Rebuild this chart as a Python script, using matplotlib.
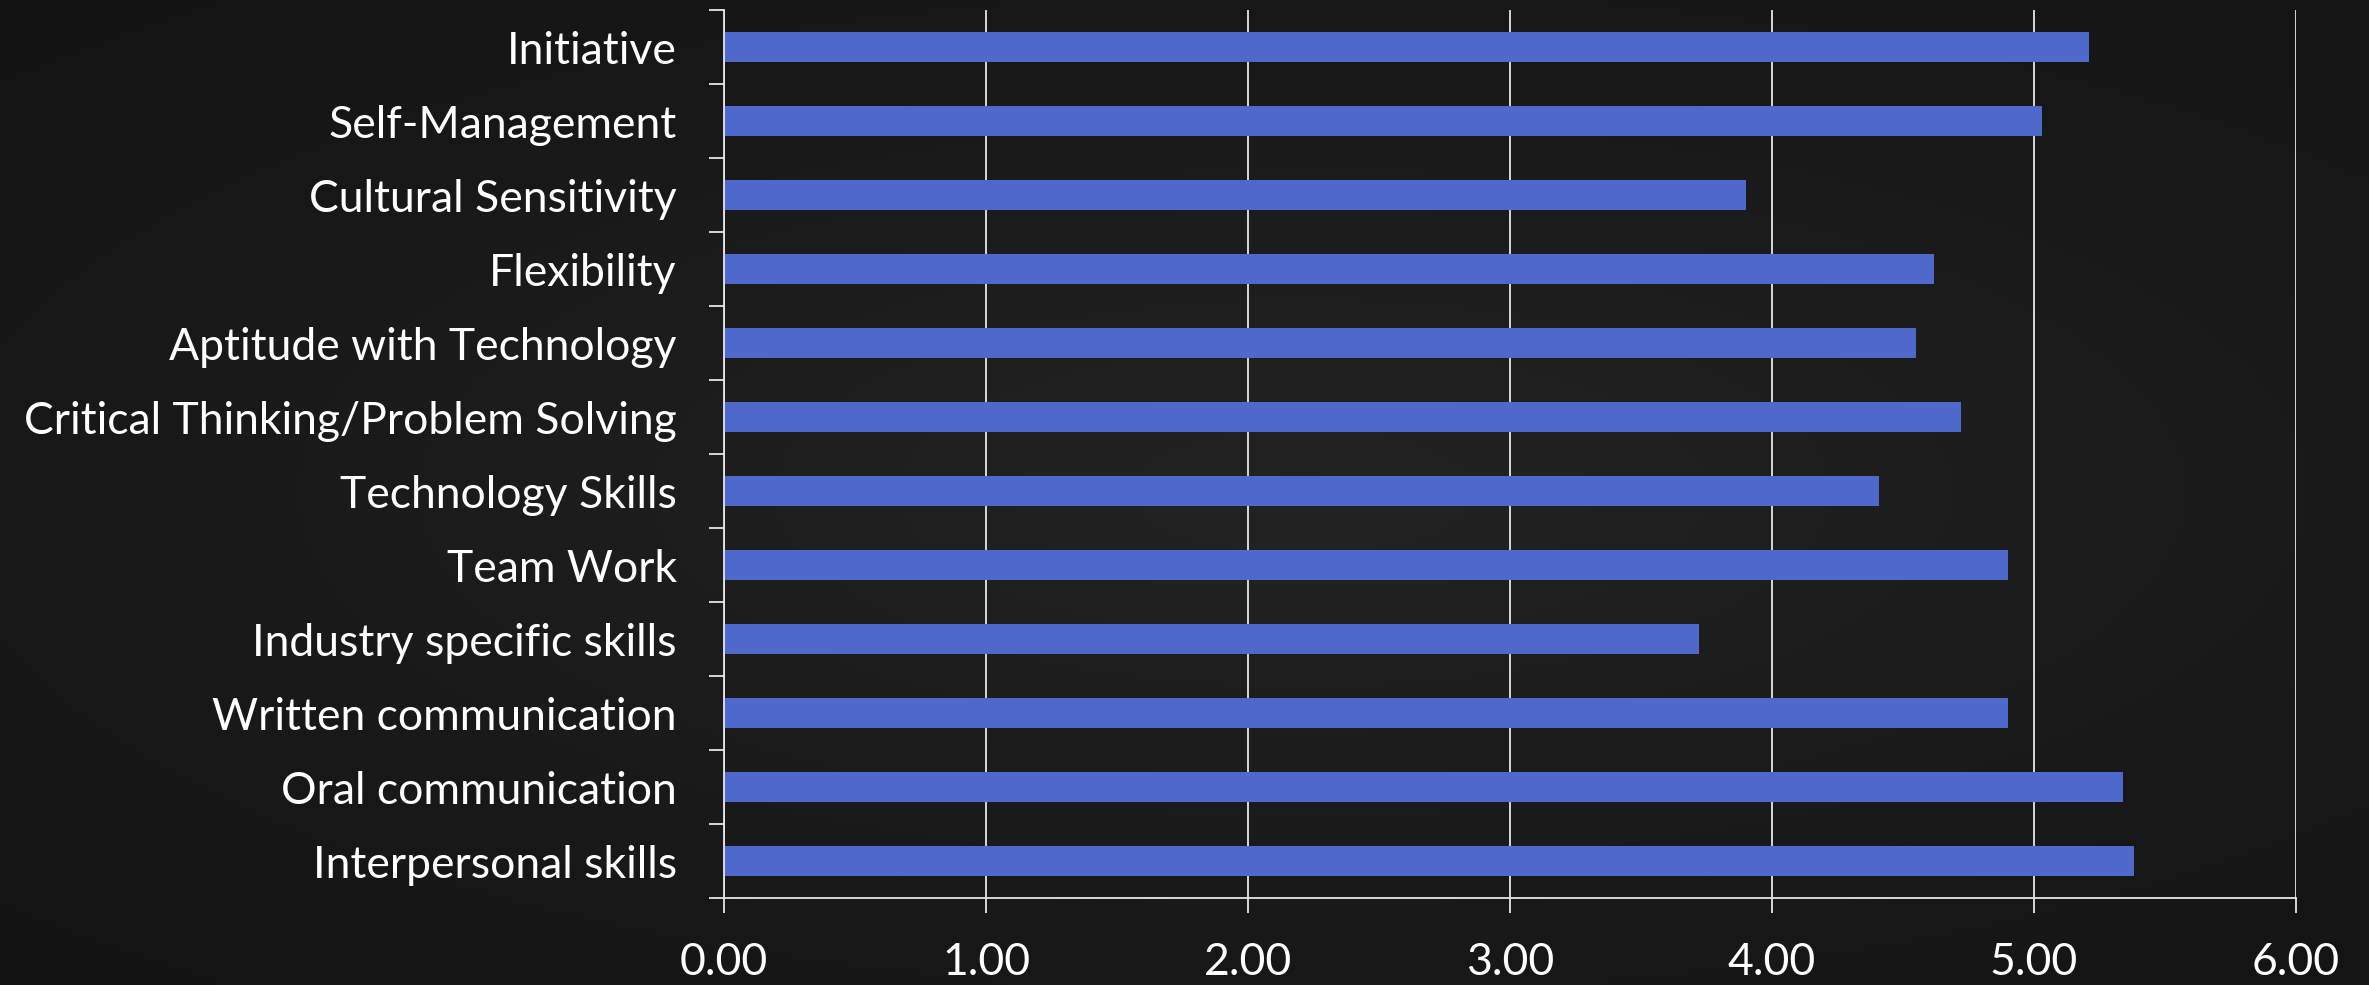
import numpy as np
import matplotlib
matplotlib.use("Agg")
import matplotlib.pyplot as plt
from matplotlib.ticker import FormatStrFormatter

# Skill ratings, listed top to bottom as shown on the chart
skills = [
    "Initiative",
    "Self-Management",
    "Cultural Sensitivity",
    "Flexibility",
    "Aptitude with Technology",
    "Critical Thinking/Problem Solving",
    "Technology Skills",
    "Team Work",
    "Industry specific skills",
    "Written communication",
    "Oral communication",
    "Interpersonal skills",
]
ratings = [5.21, 5.03, 3.90, 4.62, 4.55, 4.72, 4.41, 4.90, 3.72, 4.90, 5.34, 5.38]

x_ticks = [0, 1, 2, 3, 4, 5, 6]

BAR_COLOR = "#4F68CB"
TEXT_COLOR = "#FFFFFF"
LINE_COLOR = "#E6E6E6"
FONT = ["Lato", "DejaVu Sans"]

W, H, DPI = 2369, 985, 100
fig = plt.figure(figsize=(W / DPI, H / DPI), dpi=DPI)

# chalkboard-like backdrop: dark grey, slightly lighter toward the middle
bg = fig.add_axes([0, 0, 1, 1], zorder=-10)
yy, xx = np.mgrid[0:1:200j, 0:1:480j]
r = np.sqrt(((xx - 0.55) / 0.9) ** 2 + ((yy - 0.5) / 0.8) ** 2)
shade = np.clip(0.135 - 0.07 * r, 0.06, 0.135)
bg.imshow(np.dstack([shade, shade, shade]), aspect="auto", extent=[0, 1, 0, 1],
          interpolation="bicubic")
bg.set_axis_off()

ax = fig.add_axes([724 / W, 87 / H, (2296 - 724) / W, (975 - 87) / H])
ax.set_facecolor("none")

n = len(skills)
ypos = np.arange(n)[::-1]
ax.barh(ypos, ratings, height=0.40, color=BAR_COLOR, zorder=3)

ax.set_xlim(0, 6)
ax.set_ylim(-0.5, n - 0.5)

ax.set_xticks(x_ticks)
ax.xaxis.set_major_formatter(FormatStrFormatter("%.2f"))
ax.grid(axis="x", color=LINE_COLOR, linewidth=1.3, zorder=1)

# category labels on major ticks (hidden), boundary ticks as minor ticks
ax.set_yticks(ypos)
ax.set_yticklabels(skills)
ax.set_yticks(np.arange(-0.5, n, 1.0), minor=True)
ax.tick_params(axis="y", which="major", length=0, pad=34,
               labelsize=32, labelcolor=TEXT_COLOR)
ax.tick_params(axis="y", which="minor", length=11, width=1.3,
               color=LINE_COLOR, direction="out")
ax.tick_params(axis="x", which="major", length=11, width=1.3,
               color=LINE_COLOR, direction="out", pad=21,
               labelsize=32, labelcolor=TEXT_COLOR)

for lab in ax.get_yticklabels() + ax.get_xticklabels():
    lab.set_family(FONT)
    if lab in ax.get_yticklabels():
        lab.set_verticalalignment("center_baseline")

for side in ("top", "right"):
    ax.spines[side].set_visible(False)
for side in ("left", "bottom"):
    ax.spines[side].set_color(LINE_COLOR)
    ax.spines[side].set_linewidth(1.3)
    ax.spines[side].set_zorder(4)

fig.savefig("out.png", dpi=DPI)
